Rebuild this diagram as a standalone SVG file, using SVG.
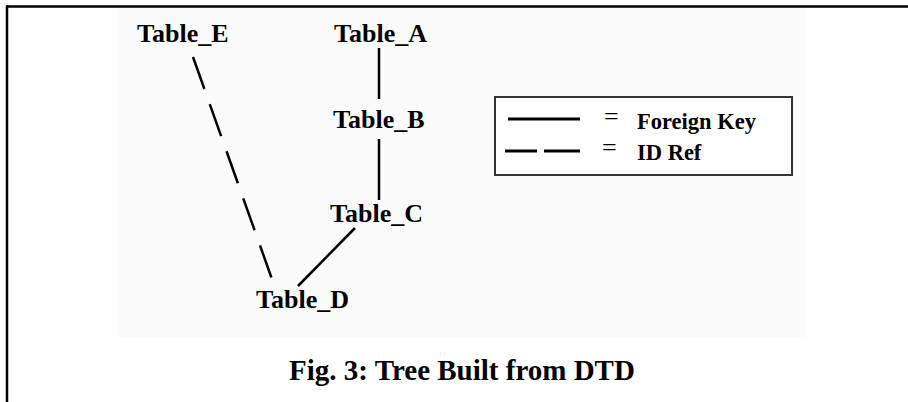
<svg xmlns="http://www.w3.org/2000/svg" width="908" height="402" viewBox="0 0 908 402">
  <style>
    .lbl { font-family: "Liberation Serif", "Times New Roman", serif; font-weight: bold; font-size: 26px; fill: #000; }
    .leg { font-family: "Liberation Serif", "Times New Roman", serif; font-weight: bold; font-size: 22.5px; fill: #000; }
    .eq { font-family: "Liberation Serif", "Times New Roman", serif; font-size: 26px; fill: #000; }
    .cap { font-family: "Liberation Serif", "Times New Roman", serif; font-weight: bold; font-size: 29px; fill: #000; }
    .fk { stroke: #000; stroke-width: 2.5; fill: none; }
    .idref { stroke: #000; stroke-width: 2.5; fill: none; stroke-dasharray: 34 16; }
  </style>

  <!-- page background and frame -->
  <rect x="0" y="0" width="908" height="402" fill="#ffffff"/>
  <rect x="117" y="8" width="689" height="329" fill="#fbfbfb"/>
  <line x1="6" y1="6.5" x2="908" y2="6.5" stroke="#000" stroke-width="2.5"/>
  <line x1="7" y1="5.5" x2="7" y2="402" stroke="#000" stroke-width="2.5"/>

  <!-- connectors -->
  <g id="connectors">
    <line class="fk" x1="379" y1="48" x2="379" y2="99"/>
    <line class="fk" x1="379" y1="139" x2="379" y2="200"/>
    <line class="fk" x1="355" y1="228" x2="298" y2="286"/>
    <line class="idref" x1="193" y1="57" x2="273" y2="282"/>
  </g>

  <!-- tables -->
  <g id="table_e"><text class="lbl" x="137" y="42">Table_E</text></g>
  <g id="table_a"><text class="lbl" x="334" y="42">Table_A</text></g>
  <g id="table_b"><text class="lbl" x="333" y="128">Table_B</text></g>
  <g id="table_c"><text class="lbl" x="330" y="222">Table_C</text></g>
  <g id="table_d"><text class="lbl" x="256" y="308">Table_D</text></g>

  <!-- legend -->
  <g id="legend">
    <rect x="495" y="97" width="297" height="78" fill="#ffffff" stroke="#333" stroke-width="2"/>
    <line x1="508" y1="119" x2="580" y2="119" stroke="#000" stroke-width="3"/>
    <line x1="505" y1="151" x2="537" y2="151" stroke="#000" stroke-width="3"/>
    <line x1="544" y1="151" x2="580" y2="151" stroke="#000" stroke-width="3"/>
    <text class="eq" x="604" y="125">=</text>
    <text class="eq" x="602" y="156">=</text>
    <text class="leg" x="637" y="129">Foreign Key</text>
    <text class="leg" x="637" y="160">ID Ref</text>
  </g>

  <!-- caption -->
  <text class="cap" x="462" y="380" text-anchor="middle">Fig. 3: Tree Built from DTD</text>
</svg>
